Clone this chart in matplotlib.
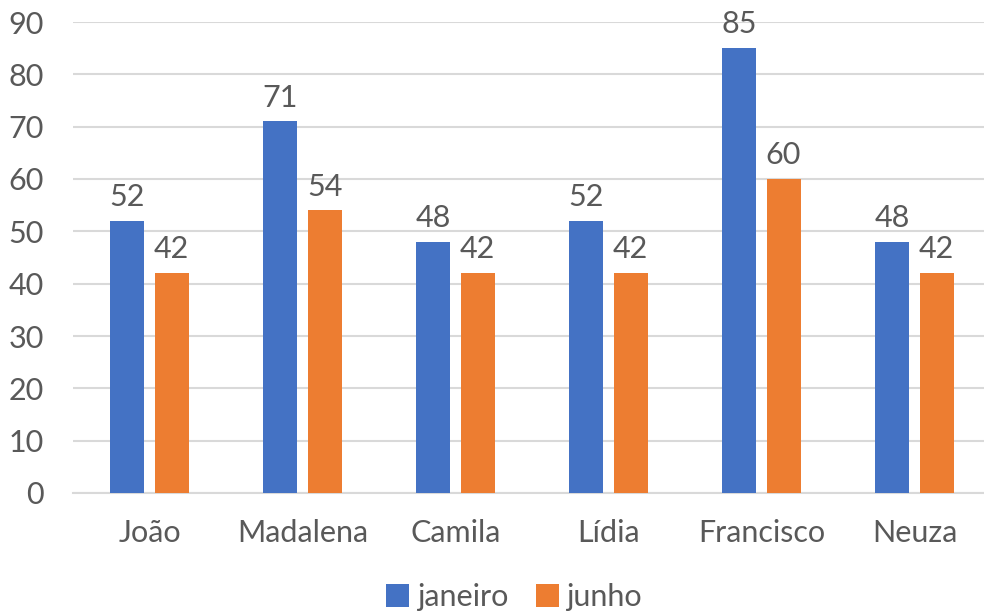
"""Grouped bar chart: janeiro vs junho per person."""

import matplotlib
matplotlib.use("Agg")
import matplotlib.pyplot as plt
import numpy as np

names = ["João", "Madalena", "Camila", "Lídia", "Francisco", "Neuza"]
janeiro = [52, 71, 48, 52, 85, 48]
junho = [42, 54, 42, 42, 60, 42]
y_ticks = list(range(0, 100, 10))

BLUE = "#4472C4"
ORANGE = "#ED7D31"
TEXT = "#595959"
GRID = "#D9D9D9"

plt.rcParams["font.family"] = ["Lato", "DejaVu Sans"]
FS = 22

fig = plt.figure(figsize=(9.84, 6.14), dpi=100)
ax = fig.add_axes([73 / 984, 1 - 493 / 614, 918 / 984, (493 - 22) / 614])

x = np.arange(len(names))
width = 0.222
offset = 0.144
bars_a = ax.bar(x - offset, janeiro, width, color=BLUE, label="janeiro", zorder=3)
bars_b = ax.bar(x + offset, junho, width, color=ORANGE, label="junho", zorder=3)

for bars in (bars_a, bars_b):
    for b in bars:
        ax.annotate(f"{b.get_height():.0f}", (b.get_x() + b.get_width() / 2, b.get_height()),
                    xytext=(0, 7), textcoords="offset points", ha="center", va="bottom",
                    fontsize=FS, color=TEXT)

ax.set_xlim(-0.5, len(names) - 0.5)
ax.set_ylim(0, 90)
ax.set_yticks(y_ticks)
ax.set_xticks(x)
ax.set_xticklabels(names)
ax.yaxis.grid(True, color=GRID, linewidth=1.5, zorder=0)
for side in ("top", "right", "left"):
    ax.spines[side].set_visible(False)
ax.spines["bottom"].set_color(GRID)
ax.spines["bottom"].set_linewidth(1.5)
ax.tick_params(axis="both", length=0, labelsize=FS, labelcolor=TEXT)
ax.tick_params(axis="y", pad=21)
ax.tick_params(axis="x", pad=19)

fig.legend(loc="center", bbox_to_anchor=(514 / 984, 1 - 597 / 614), ncol=2, frameon=False,
           fontsize=FS, labelcolor=TEXT, handlelength=0.75, handleheight=0.75,
           handletextpad=0.25, columnspacing=0.9)

fig.savefig("out.png", dpi=100)
